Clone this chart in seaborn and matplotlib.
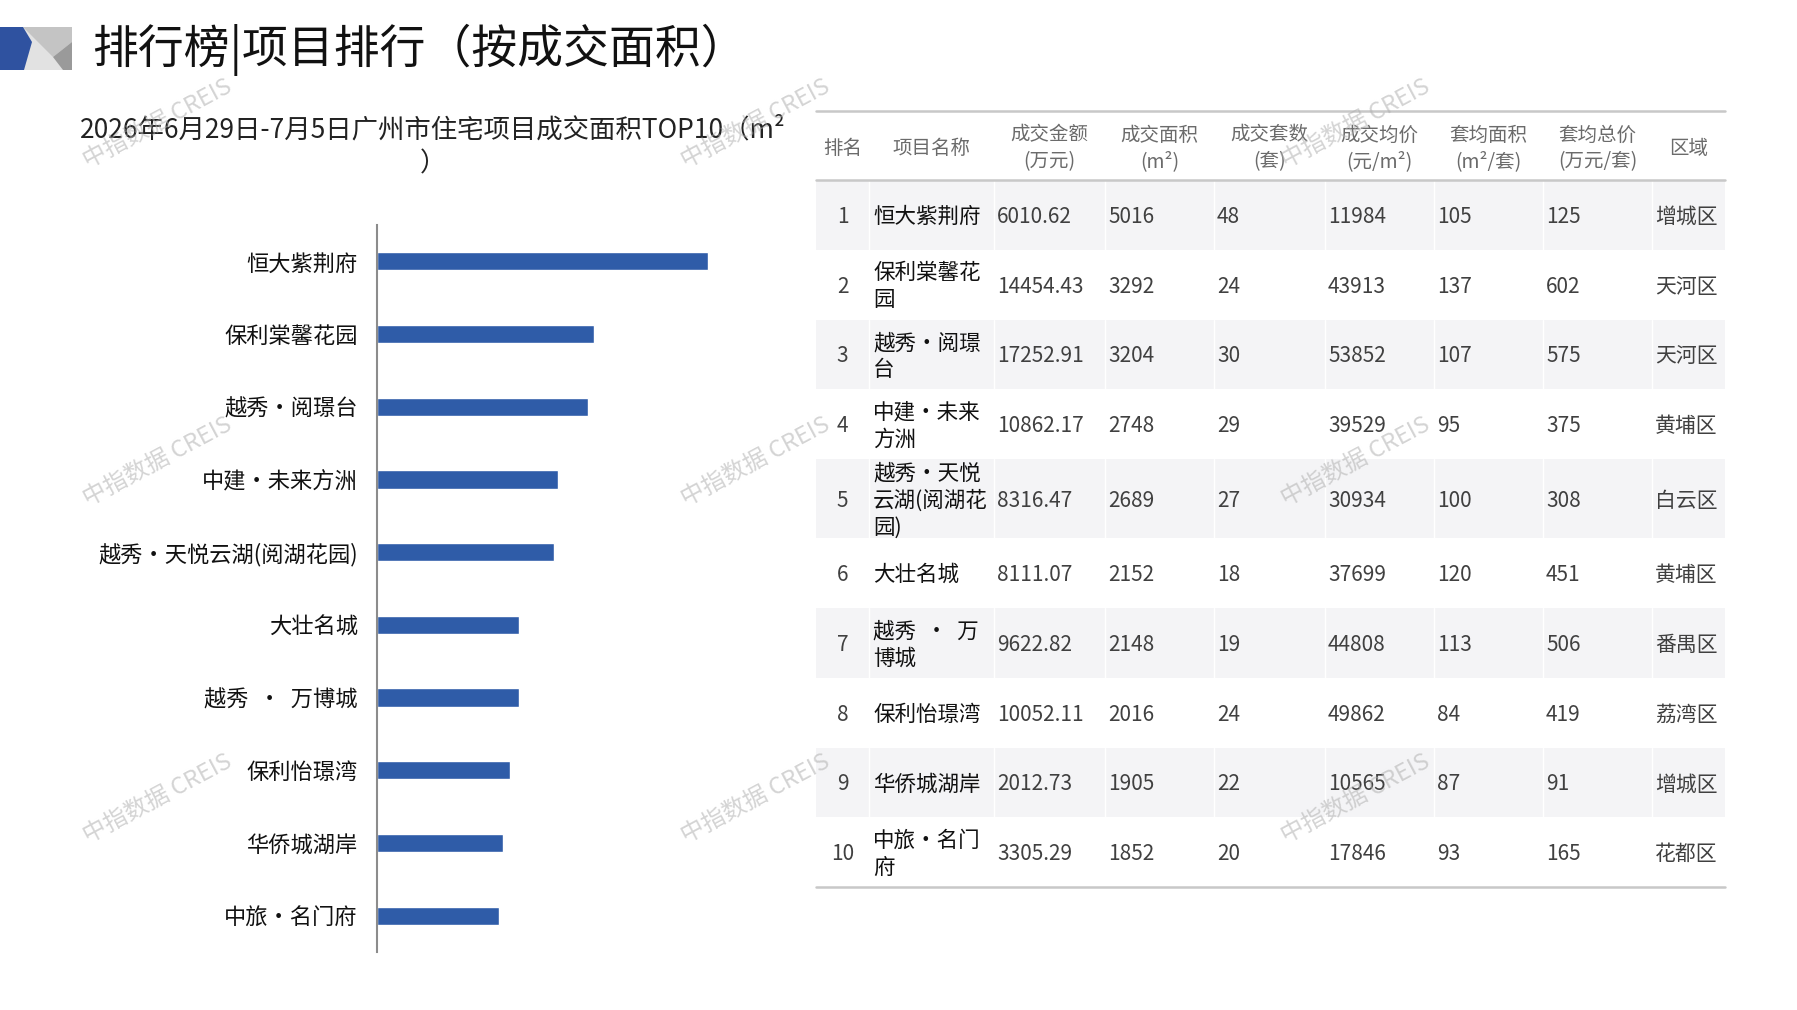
import numpy as np
import pandas as pd
import matplotlib.pyplot as plt
from matplotlib.patches import Polygon, Rectangle
import seaborn as sns

# ---- data ----
names = ['恒大紫荆府', '保利棠馨花园', '越秀•阅璟台', '中建•未来方洲', '越秀•天悦云湖(阅湖花园)',
         '大壮名城', '越秀  •  万博城', '保利怡璟湾', '华侨城湖岸', '中旅•名门府']
table_names = ['恒大紫荆府', '保利棠馨花\n园', '越秀•阅璟\n台', '中建•未来\n方洲', '越秀•天悦\n云湖(阅湖花\n园)',
               '大壮名城', '越秀  •  万\n博城', '保利怡璟湾', '华侨城湖岸', '中旅•名门\n府']
amount = [6010.62, 14454.43, 17252.91, 10862.17, 8316.47, 8111.07, 9622.82, 10052.11, 2012.73, 3305.29]
area = [5016, 3292, 3204, 2748, 2689, 2152, 2148, 2016, 1905, 1852]
units = [48, 24, 30, 29, 27, 18, 19, 24, 22, 20]
price = [11984, 43913, 53852, 39529, 30934, 37699, 44808, 49862, 10565, 17846]
avg_area = [105, 137, 107, 95, 100, 120, 113, 84, 87, 93]
avg_total = [125, 602, 575, 375, 308, 451, 506, 419, 91, 165]
district = ['增城区', '天河区', '天河区', '黄埔区', '白云区', '黄埔区', '番禺区', '荔湾区', '增城区', '花都区']

headers = ['排名', '项目名称', '成交金额\n(万元)', '成交面积\n(m²)', '成交套数\n(套)', '成交均价\n(元/m²)',
           '套均面积\n(m²/套)', '套均总价\n(万元/套)', '区域']

title = '排行榜|项目排行（按成交面积）'
subtitle = '2026年6月29日-7月5日广州市住宅项目成交面积TOP10（m²\n）'
watermark = '中指数据 CREIS'

df = pd.DataFrame({'name': names, 'area': area})

W, H = 1797, 1010
sns.set_style('white')
plt.rcParams['font.family'] = ['Noto Sans CJK SC', 'DejaVu Sans']

fig = plt.figure(figsize=(W / 100, H / 100), dpi=100)

# background axes in pixel coordinates
bg = fig.add_axes([0, 0, 1, 1])
bg.set_xlim(0, W)
bg.set_ylim(H, 0)
bg.axis('off')

# header icon
bg.add_patch(Rectangle((23, 27), 49, 43, color='#E2E2E2', lw=0))
bg.add_patch(Polygon([(23, 27), (72, 27), (72, 42), (53, 57)], color='#C4C4C4', lw=0))
bg.add_patch(Polygon([(53, 57), (72, 42), (72, 70), (63, 70)], color='#9A9A9A', lw=0))
bg.add_patch(Polygon([(0, 27), (23, 27), (32, 42), (24, 70), (0, 70)], color='#2F52A0', lw=0))

bg.text(92, 50, title, fontsize=33, va='center', ha='left', color='#111111')
bg.text(433, 147, subtitle, fontsize=19, va='center', ha='center', color='#222222',
        linespacing=1.3, multialignment='center')

# ---- bar chart ----
bl, br, bt, bb = 377, 773, 225, 952
axb = fig.add_axes([bl / W, 1 - bb / H, (br - bl) / W, (bb - bt) / H])
axb.patch.set_alpha(0)
sns.barplot(data=df, x='area', y='name', orient='h', color='#2F5CA8', saturation=1,
            width=0.25, ax=axb)
axb.set_xlim(0, 6000)
axb.set_ylim(len(names) - 0.5, -0.5)
axb.set_xticks([])
axb.set_xlabel('')
axb.set_ylabel('')
for s in ['top', 'right', 'bottom']:
    axb.spines[s].set_visible(False)
axb.spines['left'].set_color('#8C8C8C')
axb.spines['left'].set_linewidth(1.5)
axb.set_yticks(np.arange(-0.5, len(names), 1), minor=True)
axb.tick_params(axis='y', which='major', length=0, pad=14, labelsize=16, labelcolor='#111111')
axb.tick_params(axis='y', which='minor', length=4, width=1, direction='in', color='#8C8C8C')

# ---- table ----
col_edges = [816, 869, 994, 1105, 1214, 1325, 1434, 1543, 1652, 1725]
top_line, head_bot = 111, 180
row_h = [79 if n.count('\n') >= 2 else 69.8 for n in table_names]
row_tops = head_bot + np.concatenate([[0], np.cumsum(row_h)[:-1]])

bg.plot([col_edges[0], col_edges[-1]], [top_line, top_line], color='#C8C8C8', lw=1.8)
for i, h in enumerate(headers):
    cx = (col_edges[i] + col_edges[i + 1]) / 2
    bg.text(cx, (top_line + head_bot) / 2 + 3, h, fontsize=14, color='#6B6B6B',
            ha='center', va='center', linespacing=1.35, multialignment='center')

for r in range(len(names)):
    y0, h = row_tops[r], row_h[r]
    yc = y0 + h / 2 + 2
    if r % 2 == 0:
        bg.add_patch(Rectangle((col_edges[0], y0), col_edges[-1] - col_edges[0], h,
                               color='#F4F4F6', lw=0, zorder=0))
        for x in col_edges[1:-1]:
            bg.plot([x, x], [y0, y0 + h], color='white', lw=1, zorder=0.5)
    vals = [str(r + 1), table_names[r], f'{amount[r]:.2f}', str(area[r]), str(units[r]),
            str(price[r]), str(avg_area[r]), str(avg_total[r]), district[r]]
    for c, v in enumerate(vals):
        if c == 0:
            bg.text((col_edges[0] + col_edges[1]) / 2, yc, v, fontsize=15, color='#404040',
                    ha='center', va='center')
        elif c == 1:
            bg.text(col_edges[c] + 4, yc, v, fontsize=15.5, color='#111111',
                    ha='left', va='center', linespacing=1.28)
        else:
            bg.text(col_edges[c] + 3, yc, v, fontsize=15, color='#404040',
                    ha='left', va='center')

bg.plot([col_edges[0], col_edges[-1]], [head_bot, head_bot], color='#C8C8C8', lw=1.8)
table_bot = row_tops[-1] + row_h[-1]
bg.plot([col_edges[0], col_edges[-1]], [table_bot, table_bot], color='#C8C8C8', lw=1.8)

# ---- watermarks ----
for wy in [124, 462, 799]:
    for wx in [158, 756, 1356]:
        fig.text(wx / W, 1 - wy / H, watermark, fontsize=17, color='#B0B0B0', alpha=0.55,
                 rotation=28, ha='center', va='center', style='italic', zorder=10)

fig.savefig('out.png', dpi=100)
